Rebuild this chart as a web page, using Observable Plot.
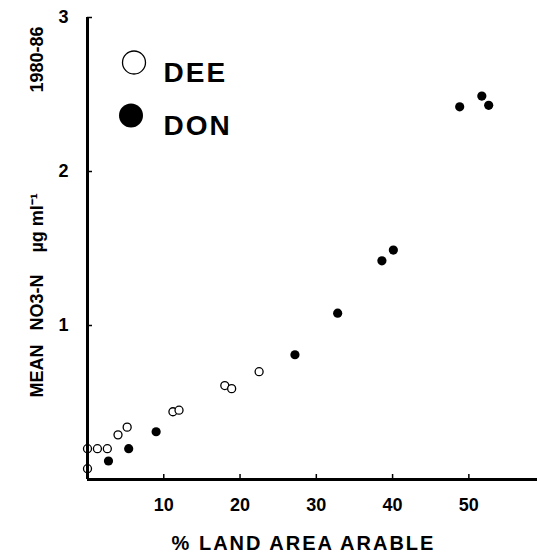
<!DOCTYPE html>
<html><head><meta charset="utf-8">
<script src="https://cdn.jsdelivr.net/npm/d3@7"></script>
<script src="https://cdn.jsdelivr.net/npm/@observablehq/plot@0.6"></script>
<style>body{margin:0;background:#fff}</style>
</head><body><div id="chart"></div>
<script>
const deeX = [0, 0, 1.3, 2.6, 4.0, 5.2, 11.2, 12.0, 18.0, 18.9, 22.5];
const deeY = [0.07, 0.20, 0.20, 0.20, 0.29, 0.34, 0.44, 0.45, 0.61, 0.59, 0.70];
const donX = [2.75, 5.4, 9.0, 27.2, 32.8, 38.6, 40.1, 48.8, 51.7, 52.6];
const donY = [0.12, 0.20, 0.31, 0.81, 1.08, 1.42, 1.49, 2.42, 2.49, 2.43];
const xTicks = [10, 20, 30, 40, 50];
const yTicks = [1, 2, 3];
const seriesNames = ["DEE", "DON"];
const xTitle = "% LAND AREA ARABLE";
const yTitleParts = ["MEAN", "NO3-N", "µg ml⁻¹", "1980-86"];

const dee = deeX.map((x, i) => ({x, y: deeY[i]}));
const don = donX.map((x, i) => ({x, y: donY[i]}));
const yPartStarts = [149, 82, 4, -156];
const font = "Liberation Sans, Arial, Helvetica, sans-serif";

const chart = Plot.plot({
  width: 537,
  height: 553,
  marginLeft: 87,
  marginRight: 0,
  marginTop: 17,
  marginBottom: 74,
  style: {fontFamily: font, fontWeight: "bold", color: "black", background: "white"},
  x: {domain: [0, 59]},
  y: {domain: [0, 3]},
  marks: [
    Plot.axisX({ticks: xTicks, tickFormat: d => String(d), tickSize: -5, tickPadding: 24, label: null, strokeWidth: 1.5}),
    Plot.axisY({ticks: yTicks, tickFormat: d => String(d), tickSize: -5, tickPadding: 24, label: null, strokeWidth: 1.5}),
    Plot.dot(dee, {x: "x", y: "y", r: 4, stroke: "black", strokeWidth: 1.3, fill: "white"}),
    Plot.dot(don, {x: "x", y: "y", r: 4.6, fill: "black", stroke: "none"}),
    Plot.ruleY([0], {stroke: "black", strokeWidth: 3}),
    Plot.ruleX([0], {stroke: "black", strokeWidth: 3}),
    // legend
    Plot.dot([seriesNames[0]], {frameAnchor: "top-left", dx: 46.5, dy: 45, r: 11.5, stroke: "black", strokeWidth: 1.3, fill: "white"}),
    Plot.dot([seriesNames[1]], {frameAnchor: "top-left", dx: 43.5, dy: 98, r: 12, fill: "black"}),
    Plot.text([seriesNames[0]], {text: d => d, frameAnchor: "top-left", dx: 76, dy: 45, textAnchor: "start", fontSize: 28}),
    Plot.text([seriesNames[1]], {text: d => d, frameAnchor: "top-left", dx: 76, dy: 98, textAnchor: "start", fontSize: 28}),
    // axis titles
    Plot.text([xTitle], {text: d => d, frameAnchor: "bottom", dx: -9, dy: 70, fontSize: 20}),
    ...yTitleParts.map((t, i) => Plot.text([t], {text: d => d, frameAnchor: "left", rotate: -90, textAnchor: "start", dx: -50, dy: yPartStarts[i], fontSize: 18}))
  ]
});
const s = d3.select(chart);
const tickStrings = new Set([...xTicks, ...yTicks].map(String));
s.selectAll("text").each(function() {
  const t = this.textContent;
  if (seriesNames.includes(t)) this.setAttribute("letter-spacing", "2px");
  else if (t === xTitle) this.setAttribute("letter-spacing", "2px");
  else if (tickStrings.has(t)) this.style.fontSize = "18px";
});
document.getElementById("chart").append(chart);
</script>
</body></html>
